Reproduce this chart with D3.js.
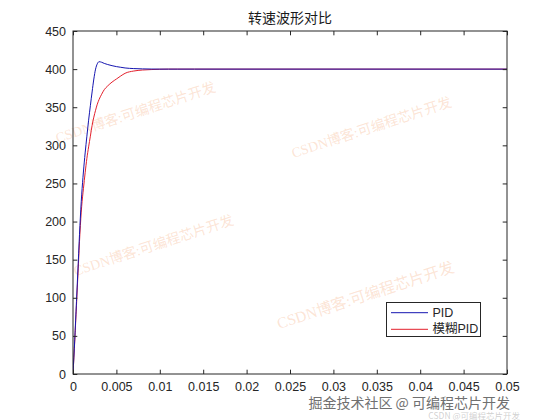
<!DOCTYPE html>
<html>
<head>
<meta charset="utf-8">
<script src="https://cdn.jsdelivr.net/npm/d3@7"></script>
<style>
  html, body { margin: 0; padding: 0; background: #fff; }
  svg { display: block; }
  text { font-family: "Liberation Sans", Arial, "Noto Sans CJK SC", sans-serif; }
</style>
</head>
<body>
<svg id="chart" width="560" height="420"></svg>
<script>
// ---- data ----
const chartTitle = "转速波形对比";
const seriesNames = ["PID", "模糊PID"];
const timeS = [0, 0.0002, 0.0004, 0.0006, 0.0008, 0.0010, 0.0012, 0.0014, 0.0016, 0.0018,
               0.0020, 0.0022, 0.0024, 0.0026, 0.0028, 0.0030, 0.0033, 0.0036, 0.0040, 0.0045,
               0.0050, 0.0055, 0.0060, 0.0070, 0.0080, 0.0090, 0.0100, 0.0110, 0.0120, 0.0140, 0.0500];
const pidSpeed = [0, 45, 95, 145, 195, 235, 265, 290, 312, 333,
                  352, 370, 387, 400, 407, 409.7, 409, 407.5, 406, 404.5,
                  403.3, 402.4, 401.5, 400.7, 400.3, 400.1, 400, 400, 400, 400, 400];
const fuzzySpeed = [0, 43, 90, 138, 185, 220, 243, 264, 283, 298,
                    312, 326, 337, 346, 354, 360, 367, 373, 378, 383,
                    387, 391, 394.5, 397.5, 398.8, 399.4, 399.8, 400, 400, 400, 400];
const xTicks = [0, 0.005, 0.01, 0.015, 0.02, 0.025, 0.03, 0.035, 0.04, 0.045, 0.05];
const xTickLabels = ["0", "0.005", "0.01", "0.015", "0.02", "0.025", "0.03", "0.035", "0.04", "0.045", "0.05"];
const yTicks = [0, 50, 100, 150, 200, 250, 300, 350, 400, 450];
const yTickLabels = ["0", "50", "100", "150", "200", "250", "300", "350", "400", "450"];
const watermarkText = "CSDN博客:可编程芯片开发";
const footerText = "掘金技术社区 @ 可编程芯片开发";
const footerText2 = "CSDN @可编程芯片开发";

// ---- layout ----
const L = 73, R = 507, T = 31, B = 374;
const svg = d3.select("#chart");
const x = d3.scaleLinear().domain([0, 0.05]).range([L, R]);
const y = d3.scaleLinear().domain([0, 450]).range([B, T]);
const axisColor = "#262626";
const tickLen = 4.3;

// title
svg.append("text")
  .attr("x", (L + R) / 2).attr("y", 23)
  .attr("text-anchor", "middle")
  .attr("font-size", 14)
  .style("font-family", "'Noto Sans CJK SC', sans-serif")
  .attr("fill", "#1a1a1a")
  .text(chartTitle);

// watermarks (behind data)
const wm = svg.append("g").attr("class", "wm");
const wmPos = [[136, 114, 14], [372, 129, 14], [154, 247, 14], [366, 297, 15.5]];
wmPos.forEach(([cx, cy, fs]) => {
  wm.append("text")
    .attr("transform", `translate(${cx},${cy}) rotate(-18)`)
    .attr("text-anchor", "middle")
    .attr("dominant-baseline", "middle")
    .attr("font-size", fs)
    .style("font-family", "'Liberation Serif', 'Noto Sans CJK SC', serif")
    .attr("fill", "rgba(245,165,115,0.30)")
    .text(watermarkText);
});

// clip
svg.append("defs").append("clipPath").attr("id", "clip")
  .append("rect").attr("x", L).attr("y", T).attr("width", R - L).attr("height", B - T);

// lines
const line = (vals) => d3.line()
  .x((d, i) => x(timeS[i]))
  .y(d => y(d))
  .curve(d3.curveMonotoneX)(vals);

const plot = svg.append("g").attr("clip-path", "url(#clip)");
plot.append("path").attr("d", line(fuzzySpeed))
  .attr("fill", "none").attr("stroke", "#e3202c").attr("stroke-width", 1);
plot.append("path").attr("d", line(pidSpeed))
  .attr("fill", "none").attr("stroke", "#1515b0").attr("stroke-width", 1);

// axes (ticks inward)
const gx = svg.append("g").attr("transform", `translate(0,${B})`)
  .call(d3.axisBottom(x).tickValues(xTicks).tickFormat((d, i) => xTickLabels[i])
        .tickSizeInner(-tickLen).tickSizeOuter(0).tickPadding(8));
const gxTop = svg.append("g").attr("transform", `translate(0,${T})`)
  .call(d3.axisTop(x).tickValues(xTicks).tickFormat("").tickSizeInner(-tickLen).tickSizeOuter(0));
const gy = svg.append("g").attr("transform", `translate(${L},0)`)
  .call(d3.axisLeft(y).tickValues(yTicks).tickFormat((d, i) => yTickLabels[i])
        .tickSizeInner(-tickLen).tickSizeOuter(0).tickPadding(7));
const gyR = svg.append("g").attr("transform", `translate(${R},0)`)
  .call(d3.axisRight(y).tickValues(yTicks).tickFormat("").tickSizeInner(-tickLen).tickSizeOuter(0));

[gx, gxTop, gy, gyR].forEach(g => {
  g.select(".domain").remove();
  g.selectAll("line").attr("stroke", axisColor);
  g.selectAll("text").attr("fill", axisColor).attr("font-size", 12.5)
    .style("font-family", "'Liberation Sans', Arial, sans-serif");
});

// box
svg.append("rect").attr("x", L).attr("y", T).attr("width", R - L).attr("height", B - T)
  .attr("fill", "none").attr("stroke", axisColor).attr("stroke-width", 1);

// legend
const lg = svg.append("g");
lg.append("rect").attr("x", 386.5).attr("y", 302.5).attr("width", 94).attr("height", 34)
  .attr("fill", "#fff").attr("stroke", axisColor).attr("stroke-width", 1);
const legendColors = ["#1515b0", "#e3202c"];
seriesNames.forEach((name, i) => {
  const ly = 312.7 + i * 16.6;
  lg.append("line").attr("x1", 391).attr("x2", 428).attr("y1", ly).attr("y2", ly)
    .attr("stroke", legendColors[i]).attr("stroke-width", 1);
  lg.append("text").attr("x", 432.5).attr("y", ly).attr("dominant-baseline", "central")
    .attr("font-size", 12.5).attr("fill", axisColor)
    .style("font-family", "'Liberation Sans', 'Noto Sans CJK SC', sans-serif")
    .text(name);
});

// footer watermarks
svg.append("text").attr("x", 510).attr("y", 402).attr("text-anchor", "end")
  .attr("dominant-baseline", "central")
  .attr("font-size", 14).attr("fill", "#707070")
  .style("font-family", "'Noto Sans CJK SC', sans-serif")
  .text(footerText);
svg.append("text").attr("x", 520).attr("y", 415).attr("text-anchor", "end")
  .attr("dominant-baseline", "central")
  .attr("font-size", 8.5).attr("fill", "rgba(150,150,150,0.45)")
  .style("font-family", "'Noto Sans CJK SC', sans-serif")
  .text(footerText2);
</script>
</body>
</html>
